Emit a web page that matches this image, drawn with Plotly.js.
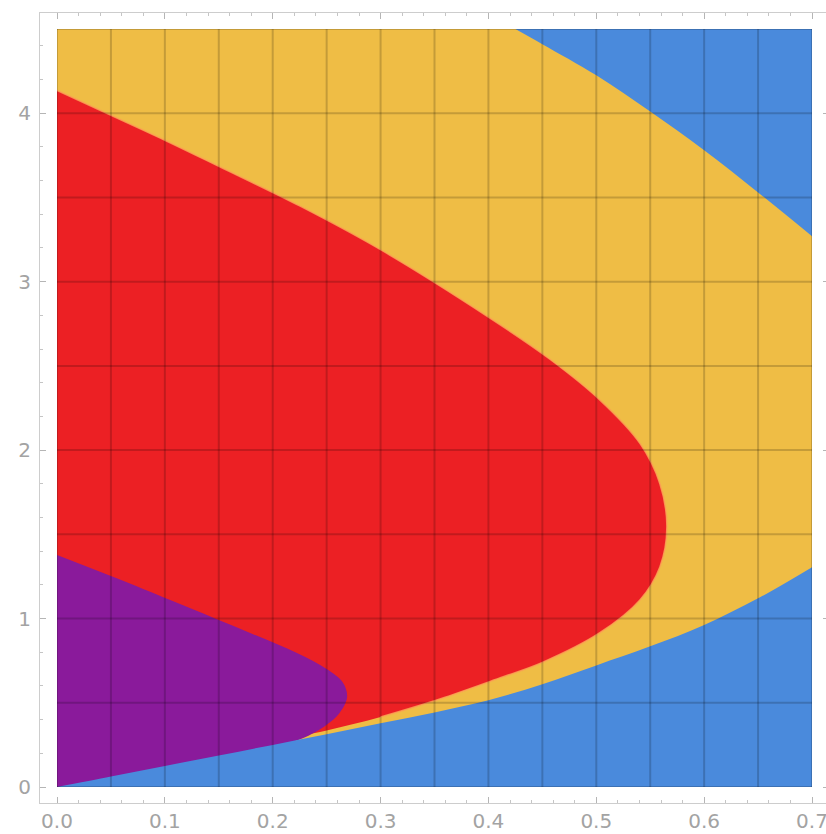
<!DOCTYPE html>
<html>
<head>
<meta charset="utf-8">
<script src="https://cdn.plot.ly/plotly-3.0.1.min.js"></script>
<style>
  html, body { margin: 0; padding: 0; overflow: hidden; background: #ffffff; }
  #chart { width: 834px; height: 834px; }
</style>
</head>
<body>
<div id="chart"></div>
<script>
// Extent of the shaded region
const xMin = 0, xMax = 0.7, yMin = 0, yMax = 4.5;
// Frame (padded) ranges
const frameX = [-0.01576, 0.71576];
const frameY = [-0.095, 4.595];

// Lower boundary (blue below it)
const lowerX = [0, 0.05, 0.1, 0.15, 0.2, 0.25, 0.3, 0.35, 0.4, 0.45, 0.5, 0.55, 0.6, 0.65, 0.7];
const lowerY = [0, 0.0625, 0.125, 0.1875, 0.25, 0.3125, 0.378, 0.443, 0.515, 0.61, 0.722, 0.835, 0.962, 1.12, 1.305];

// Upper-right boundary (blue above it)
const upperX = [0.425, 0.45, 0.5, 0.55, 0.6, 0.65, 0.70];
const upperY = [4.5, 4.41, 4.225, 4.01, 3.78, 3.53, 3.27];

// Outline of the red region (top arc, tip, bottom arc)
const redX = [0, 0.046, 0.1, 0.15, 0.225, 0.3, 0.4, 0.457, 0.503, 0.5405, 0.559, 0.5655,
              0.559, 0.5405, 0.503, 0.4506, 0.411, 0.355, 0.30, 0.25, 0.2];
const redY = [4.136, 4.0, 3.84, 3.685, 3.45, 3.19, 2.79, 2.54, 2.30, 2.04, 1.80, 1.543,
              1.306, 1.11, 0.914, 0.741, 0.648, 0.522, 0.415, 0.335, 0.265];

// Outline of the purple region
const purpleX = [0, 0.05, 0.098, 0.1725, 0.2225, 0.25, 0.265, 0.269, 0.262, 0.25, 0.23];
const purpleY = [1.377, 1.252, 1.128, 0.932, 0.795, 0.70, 0.62, 0.534, 0.44, 0.37, 0.295];

// Grid positions
const gridX = [0, 0.05, 0.1, 0.15, 0.2, 0.25, 0.3, 0.35, 0.4, 0.45, 0.5, 0.55, 0.6, 0.65, 0.7];
const gridY = [0, 0.5, 1, 1.5, 2, 2.5, 3, 3.5, 4, 4.5];

// Tick labels
const xTicks = [0, 0.1, 0.2, 0.3, 0.4, 0.5, 0.6, 0.7];
const xTickText = ['0.0', '0.1', '0.2', '0.3', '0.4', '0.5', '0.6', '0.7'];
const yTicks = [0, 1, 2, 3, 4];
const yTickText = ['0', '1', '2', '3', '4'];

const colors = { blue: '#4A8ADC', yellow: '#EFBD45', red: '#EC2024', purple: '#8A1A9B' };

// Regions live on x2/y2, whose range is exactly the shaded extent, so any
// closing points placed outside it are clipped away.
const outL = xMin - 0.2, outR = xMax + 0.2, outB = yMin - 1, outT = yMax + 1;
const inner = { xaxis: 'x2', yaxis: 'y2', hoverinfo: 'skip', showlegend: false };
const smooth = { shape: 'spline', width: 0 };

const yellowTrace = Object.assign({
  x: [outL, outR, outR, outL], y: [outB, outB, outT, outT],
  fill: 'toself', fillcolor: colors.yellow, mode: 'lines', line: { width: 0 }
}, inner);

// red: arc, then dips below the lower boundary (covered by blue/purple) and closes off to the left
const redTrace = Object.assign({
  x: redX.concat([0.1, xMin, outL, outL]),
  y: redY.concat([0.05, outB, outB, redY[0]]),
  fill: 'toself', fillcolor: colors.red, mode: 'lines', line: smooth
}, inner);

const purpleTrace = Object.assign({
  x: purpleX.concat([0.15, xMin, outL, outL]),
  y: purpleY.concat([0.1, outB, outB, purpleY[0]]),
  fill: 'toself', fillcolor: colors.purple, mode: 'lines', line: smooth
}, inner);

const blueLowerTrace = Object.assign({
  x: lowerX, y: lowerY,
  fill: 'tozeroy', fillcolor: colors.blue, mode: 'lines', line: smooth
}, inner);

// top edge used as the partner of the upper blue fill
const topEdge = Object.assign({
  x: [upperX[0], xMax], y: [yMax, yMax], mode: 'lines', line: { width: 0 }
}, inner);

const blueUpperTrace = Object.assign({
  x: upperX, y: upperY,
  fill: 'tonexty', fillcolor: colors.blue, mode: 'lines', line: smooth
}, inner);

// pale seam where red meets yellow
const redEdge = Object.assign({
  x: redX.slice(0, redX.length - 2), y: redY.slice(0, redY.length - 2), mode: 'lines',
  line: { color: 'rgba(252,165,85,0.85)', width: 1.6, shape: 'spline' }
}, inner);

// grid drawn over the regions
const gx = [], gy = [];
gridX.forEach(v => { gx.push(v, v, null); gy.push(yMin, yMax, null); });
gridY.forEach(v => { gx.push(xMin, xMax, null); gy.push(v, v, null); });
const gridTrace = Object.assign({
  x: gx, y: gy, mode: 'lines',
  line: { color: 'rgba(0,0,0,0.18)', width: 2 }
}, inner);

// keeps the frame subplot alive
const frameTrace = { x: [], y: [], mode: 'lines', hoverinfo: 'skip', showlegend: false };

const axisCommon = {
  showgrid: false, zeroline: false,
  showline: true, mirror: 'allticks', linecolor: '#cdcdcd', linewidth: 1,
  ticks: 'inside', ticklen: 6, tickwidth: 1, tickcolor: '#b5b5b5',
  tickfont: { family: 'DejaVu Sans, sans-serif', size: 20, color: '#a3a3a3' },
  fixedrange: true
};

function innerDomain(frame, lo, hi) {
  const span = frame[1] - frame[0];
  return [(lo - frame[0]) / span, (hi - frame[0]) / span];
}

const layout = {
  width: 834, height: 834,
  margin: { l: 40, r: 5, t: 13, b: 31 },
  paper_bgcolor: '#ffffff', plot_bgcolor: 'rgba(0,0,0,0)',
  showlegend: false,
  xaxis: Object.assign({}, axisCommon, {
    range: frameX, tickvals: xTicks, ticktext: xTickText,
    minor: { dtick: 0.02, tick0: 0, ticks: 'inside', ticklen: 3, tickcolor: '#c5c5c5', showgrid: false }
  }),
  yaxis: Object.assign({}, axisCommon, {
    range: frameY, tickvals: yTicks, ticktext: yTickText, ticklabelstandoff: 4,
    minor: { dtick: 0.2, tick0: 0, ticks: 'inside', ticklen: 3, tickcolor: '#c5c5c5', showgrid: false }
  }),
  xaxis2: {
    domain: innerDomain(frameX, xMin, xMax), range: [xMin, xMax], anchor: 'y2',
    visible: false, fixedrange: true
  },
  yaxis2: {
    domain: innerDomain(frameY, yMin, yMax), range: [yMin, yMax], anchor: 'x2',
    visible: false, fixedrange: true
  }
};

Plotly.newPlot('chart',
  [frameTrace, yellowTrace, redTrace, purpleTrace, blueLowerTrace, topEdge, blueUpperTrace, redEdge, gridTrace],
  layout, { staticPlot: true, displayModeBar: false });
</script>
</body>
</html>
